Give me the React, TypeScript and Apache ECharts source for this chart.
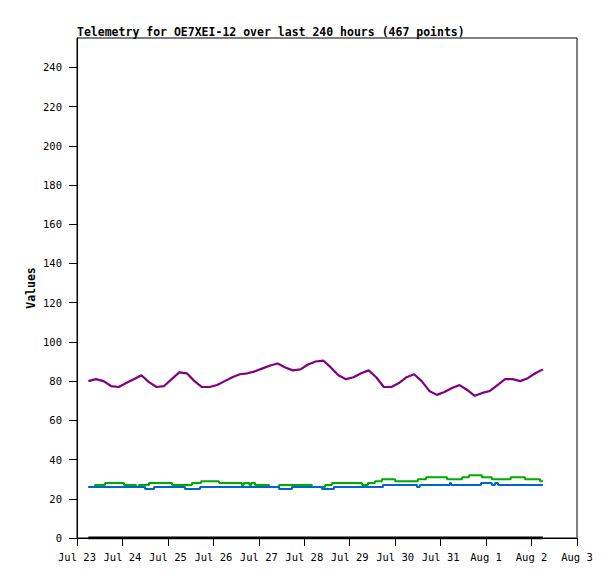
import React, { useEffect, useRef } from "react";
import * as echarts from "echarts";

// x values are hours since Jul 23 00:00
const xTickLabels = ["Jul 23", "Jul 24", "Jul 25", "Jul 26", "Jul 27", "Jul 28", "Jul 29", "Jul 30", "Jul 31", "Aug 1", "Aug 2", "Aug 3"];
const yTickValues = [0, 20, 40, 60, 80, 100, 120, 140, 160, 180, 200, 220, 240];

const purpleHours = [6, 10, 14, 18, 22, 26, 30, 34, 38, 42, 46, 50, 54, 58, 62, 66, 70, 74, 78, 82, 86, 90, 94, 98, 102, 106, 110, 114, 118, 122, 126, 130, 134, 138, 142, 146, 150, 154, 158, 162, 166, 170, 174, 178, 182, 186, 190, 194, 198, 202, 206, 210, 214, 218, 222, 226, 230, 234, 238, 242, 246];
const purpleValues = [80, 81, 80, 77.5, 77, 79, 81, 83, 79.5, 77, 77.5, 81, 84.5, 84, 80, 77, 77, 78, 80, 82, 83.5, 84, 85, 86.5, 88, 89, 87, 85.5, 86, 88.5, 90, 90.5, 87, 83, 81, 82, 84, 85.5, 82, 77, 77, 79, 82, 83.5, 80, 75, 73, 74.5, 76.5, 78, 75.5, 72.5, 74, 75, 78, 81, 81, 80, 81.5, 84, 86];

const greenHours = [6, 9.5, 14.8, 24.8, 31.2, 32.7, 38, 50.2, 60.7, 65.5, 75, 87, 88, 91, 92, 94, 101.4, 106.7, 124, 131, 134.6, 150.5, 153.6, 157.3, 161, 168, 180, 184.3, 195.4, 203.3, 207, 213.8, 219, 229, 236.5, 244.5, 246];
const greenValues = [26, 27, 28, 27, 26, 27, 28, 27, 28, 29, 28, 27, 28, 27, 28, 27, 26, 27, 26, 27, 28, 27, 28, 29, 30, 29, 30, 31, 30, 31, 32, 31, 30, 31, 30, 29, 29];

const blueHours = [6, 35.9, 40.7, 57, 65, 106.7, 113.5, 129.4, 135.7, 161.6, 179.5, 181, 196.9, 197.5, 213.3, 219, 220.7, 222.3, 246];
const blueValues = [26, 25, 26, 25, 26, 25, 26, 25, 26, 27, 26, 27, 28, 27, 28, 27, 28, 27, 27];

const blackHours = [6, 246];
const blackValues = [0, 0];

const zip = (xs: number[], ys: number[]) => xs.map((x, i) => [x, ys[i]]);

const FONT = "DejaVu Sans Mono";

export default function App() {
  const ref = useRef<HTMLDivElement>(null);
  useEffect(() => {
    if (!ref.current) return;
    const chart = echarts.init(ref.current, null, { renderer: "svg" });
    chart.setOption({
      animation: false,
      backgroundColor: "#ffffff",
      title: {
        text: "Telemetry for OE7XEI-12 over last 240 hours (467 points)",
        left: 77,
        top: 26,
        padding: 0,
        textStyle: { fontFamily: FONT, fontSize: 11.5, fontWeight: "bold", color: "#000" },
      },
      graphic: [
        {
          type: "text",
          x: 31,
          y: 288,
          rotation: Math.PI / 2,
          style: {
            text: "Values",
            fontFamily: FONT,
            fontSize: 11.5,
            fontWeight: "bold",
            fill: "#000",
            align: "center",
            verticalAlign: "middle",
          },
        },
      ],
      grid: {
        left: 77,
        top: 38,
        right: 38,
        bottom: 41,
        show: true,
        borderColor: "#000",
        borderWidth: 1,
        backgroundColor: "transparent",
      },
      xAxis: {
        type: "value",
        min: 0,
        max: 264,
        interval: 24,
        axisLine: { show: true, lineStyle: { color: "#000", width: 1 } },
        axisTick: { show: true, inside: false, length: 8, lineStyle: { color: "#000" } },
        splitLine: { show: false },
        axisLabel: {
          margin: 13,
          fontFamily: FONT,
          fontSize: 10.5,
          color: "#000",
          formatter: (v: number) => xTickLabels[Math.round(v / 24)] ?? "",
        },
      },
      yAxis: {
        type: "value",
        min: 0,
        max: 255,
        axisLine: { show: true, lineStyle: { color: "#000", width: 1 } },
        axisTick: { show: true, inside: false, length: 8, lineStyle: { color: "#000" }, customValues: yTickValues },
        splitLine: { show: false },
        axisLabel: {
          margin: 15,
          fontFamily: FONT,
          fontSize: 10.5,
          color: "#000",
          customValues: yTickValues,
        },
      },
      series: [
        {
          type: "line",
          data: zip(greenHours, greenValues),
          step: "end",
          symbol: "none",
          lineStyle: { color: "#00aa00", width: 2 },
          z: 2,
        },
        {
          type: "line",
          data: zip(blueHours, blueValues),
          step: "end",
          symbol: "none",
          lineStyle: { color: "#0066cc", width: 2 },
          z: 3,
        },
        {
          type: "line",
          data: zip(purpleHours, purpleValues),
          symbol: "none",
          lineStyle: { color: "#800080", width: 2.2 },
          z: 4,
        },
        {
          type: "line",
          data: zip(blackHours, blackValues),
          symbol: "none",
          lineStyle: { color: "#000000", width: 3 },
          z: 5,
        },
      ],
    });
    return () => chart.dispose();
  }, []);
  return (
    <div
      ref={ref}
      style={{ position: "fixed", left: 0, top: 0, width: 615, height: 579 }}
    />
  );
}
